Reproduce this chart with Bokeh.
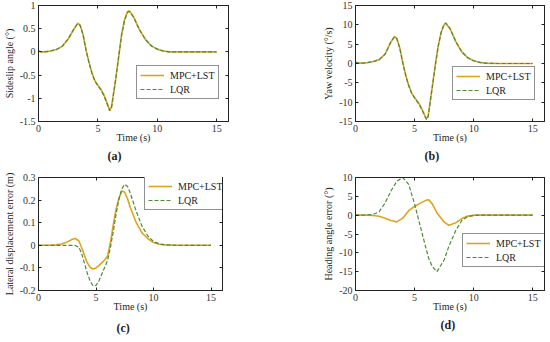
from bokeh.plotting import figure
from bokeh.models import (FixedTicker, CustomJSTickFormatter, LinearAxis, Legend,
                          LegendItem, Title, Range1d)
from bokeh.layouts import column, row
from bokeh.embed import file_html
from bokeh.resources import INLINE

FONT = "Liberation Serif"
GOLD = "#DBA520"
GREEN = "#4E8A3A"

# ---------------- data ----------------
x_ticks = [0, 5, 10, 15]

# (a) sideslip angle
t_a = [0, 0.25, 0.5, 1, 1.5, 2, 2.5, 3, 3.3, 3.5, 3.75, 4, 4.25, 4.5, 4.75, 5, 5.25, 5.5, 5.75, 6,
       6.15, 6.5, 6.75, 7, 7.25, 7.5, 7.65, 8, 8.5, 9, 9.5, 10, 10.5, 11, 12, 13, 14, 15]
beta_mpc = [0.02, 0.0, 0.0, 0.02, 0.05, 0.12, 0.28, 0.5, 0.62, 0.58, 0.38, 0.05, -0.22, -0.45, -0.62,
            -0.72, -0.8, -0.92, -1.08, -1.26, -1.18, -0.58, -0.1, 0.38, 0.7, 0.87, 0.89, 0.76, 0.48,
            0.27, 0.13, 0.06, 0.02, 0.0, 0, 0, 0, 0]
beta_lqr = [0.02, 0.0, 0.0, 0.02, 0.05, 0.12, 0.28, 0.5, 0.61, 0.57, 0.37, 0.04, -0.23, -0.46, -0.63,
            -0.73, -0.82, -0.94, -1.1, -1.27, -1.2, -0.6, -0.12, 0.36, 0.68, 0.85, 0.87, 0.75, 0.48,
            0.27, 0.13, 0.06, 0.02, 0.0, 0, 0, 0, 0]
a_ticks = [-1.5, -1, -0.5, 0, 0.5, 1]

# (b) yaw velocity
t_b = t_a
r_mpc = [0.3, 0.1, 0.1, 0.2, 0.5, 1.0, 2.4, 5.6, 7.0, 6.5, 4.0, 0.3, -3.0, -5.6, -7.6, -8.8, -9.8,
         -11.0, -12.6, -14.3, -13.6, -6.0, -0.5, 4.5, 8.0, 10.0, 10.3, 9.0, 5.6, 3.0, 1.5, 0.7, 0.3,
         0.1, 0, 0, 0, 0]
r_lqr = [0.3, 0.1, 0.1, 0.2, 0.5, 1.0, 2.4, 5.6, 6.9, 6.4, 3.9, 0.2, -3.1, -5.7, -7.7, -8.9, -10.0,
         -11.2, -12.8, -14.5, -13.8, -6.2, -0.6, 4.4, 8.1, 10.2, 10.5, 9.1, 5.6, 3.0, 1.5, 0.7, 0.3,
         0.1, 0, 0, 0, 0]
b_ticks = [-15, -10, -5, 0, 5, 10, 15]

# (c) lateral displacement error
t_c = [0, 1, 1.5, 2, 2.5, 3, 3.2, 3.5, 3.75, 4, 4.25, 4.5, 4.75, 5, 5.25, 5.5, 5.75, 6, 6.25, 6.5,
       6.75, 7, 7.25, 7.5, 7.75, 8, 8.5, 9, 9.5, 10, 10.5, 11, 12, 13, 14, 15]
ey_mpc = [0, 0, 0.002, 0.006, 0.015, 0.028, 0.03, 0.02, -0.01, -0.045, -0.078, -0.098, -0.105, -0.1,
          -0.09, -0.078, -0.065, -0.048, 0.01, 0.09, 0.16, 0.21, 0.24, 0.235, 0.205, 0.165, 0.1,
          0.055, 0.03, 0.012, 0.005, 0.002, 0, 0, 0, 0]
ey_lqr = [0, 0, 0, 0, 0, 0, -0.001, -0.008, -0.035, -0.08, -0.125, -0.16, -0.18, -0.178, -0.158,
          -0.128, -0.098, -0.067, -0.01, 0.06, 0.14, 0.205, 0.25, 0.27, 0.26, 0.228, 0.15, 0.085,
          0.042, 0.017, 0.006, 0.002, 0, 0, 0, 0]
c_ticks = [-0.2, -0.1, 0, 0.1, 0.2, 0.3]

# (d) heading angle error
t_d = [0, 1, 1.5, 2, 2.5, 3, 3.5, 4, 4.5, 5, 5.5, 6, 6.2, 6.5, 6.9, 7.5, 7.9, 8.5, 9, 9.5, 10, 10.5,
       11, 12, 13, 14, 15]
ephi_mpc = [0, 0, -0.1, -0.3, -0.8, -1.4, -1.8, -0.8, 1.2, 2.3, 3.2, 4.0, 4.1, 3.0, 0.6, -1.8, -2.7,
            -2.0, -0.9, -0.25, 0, 0, 0, 0, 0, 0, 0]
ephi_lqr = [0, 0.05, 0.2, 0.9, 3.2, 6.4, 9.0, 10.0, 8.2, 3.0, -3.1, -9.2, -11.5, -13.6, -15.0, -11.9,
            -8.3, -4.0, -1.4, -0.4, -0.1, 0, 0, 0, 0, 0, 0]
d_ticks = [-20, -15, -10, -5, 0, 5, 10]

fmt = CustomJSTickFormatter(code="return tick.toString();")
blank = CustomJSTickFormatter(code="return '';")

W, H = 275, 171
XR = (0, 16)


def make_panel(t, mpc, lqr, yr, yticks, ylabel, borders, leg_loc, tag, tag_off, tag_standoff):
    l, r, tp, b = borders
    p = figure(width=W, height=H, x_range=Range1d(*XR), y_range=Range1d(*yr),
               output_backend="svg", toolbar_location=None,
               min_border_left=l, min_border_right=r, min_border_top=tp, min_border_bottom=b)
    p.xgrid.visible = False
    p.ygrid.visible = False
    p.outline_line_color = "#222222"
    p.outline_line_width = 1
    p.background_fill_color = "white"
    p.border_fill_color = "white"

    for ax, ticks in ((p.xaxis[0], x_ticks), (p.yaxis[0], yticks)):
        ax.ticker = FixedTicker(ticks=ticks)
        ax.formatter = fmt
        ax.major_tick_in = 3
        ax.major_tick_out = 0
        ax.minor_tick_line_color = None
        ax.axis_line_color = "#222222"
        ax.major_tick_line_color = "#222222"
        ax.major_label_text_font = FONT
        ax.major_label_text_font_size = "10px"
        ax.major_label_text_color = "#333333"
        ax.axis_label_text_font = FONT
        ax.axis_label_text_font_size = "10px"
        ax.axis_label_text_font_style = "normal"
        ax.axis_label_text_color = "#222222"
        ax.major_label_standoff = 3
    p.xaxis[0].axis_label = "Time (s)"
    p.xaxis[0].axis_label_standoff = -3
    p.yaxis[0].axis_label = ylabel
    p.yaxis[0].axis_label_standoff = 2

    for side, ticks in (("above", x_ticks), ("right", yticks)):
        ax = LinearAxis(ticker=FixedTicker(ticks=ticks), formatter=blank,
                        major_label_standoff=0, major_tick_in=3, major_tick_out=0,
                        minor_tick_line_color=None, axis_line_color="#222222",
                        major_tick_line_color="#222222")
        p.add_layout(ax, side)

    r1 = p.line(t, mpc, line_color=GOLD, line_width=1.6)
    r2 = p.line(t, lqr, line_color=GREEN, line_width=1.2, line_dash="4 2")

    leg = Legend(items=[LegendItem(label="MPC+LST", renderers=[r1]),
                        LegendItem(label="LQR", renderers=[r2])],
                 location=leg_loc, orientation="vertical",
                 border_line_color="#222222", border_line_width=1,
                 background_fill_color="white", background_fill_alpha=1,
                 label_text_font=FONT, label_text_font_size="10px", label_text_color="#222222",
                 glyph_width=24, glyph_height=12, label_height=12, label_standoff=6,
                 padding=3, spacing=2, margin=0)
    p.add_layout(leg)

    # panel tag below the x axis
    p.add_layout(Title(text=tag, align="left", offset=tag_off, standoff=tag_standoff,
                       text_font=FONT, text_font_style="bold", text_font_size="12px",
                       text_color="#222222"), "below")
    return p


pa = make_panel(t_a, beta_mpc, beta_lqr, (-1.5, 1), a_ticks, "Sideslip angle (°)",
                (36, 47, 5, 50), (98, 22), "(a)", 69, 2)
pb = make_panel(t_b, r_mpc, r_lqr, (-15, 15), b_ticks, "Yaw velocity (°/s)",
                (80, 6, 5, 50), (97, 21), "(b)", 69, 2)
pc = make_panel(t_c, ey_mpc, ey_lqr, (-0.2, 0.3), c_ticks, "Lateral displacement error (m)",
                (34, 53, 6, 49), (106, 80), "(c)", 78, 9)
pd = make_panel(t_d, ephi_mpc, ephi_lqr, (-20, 10), d_ticks, "Heading angle error (°)",
                (80, 6, 5, 52), (107, 23), "(d)", 85, 2)

root = column(row(pa, pb), row(pc, pd))

open("out.html", "w").write(file_html(root, INLINE))
